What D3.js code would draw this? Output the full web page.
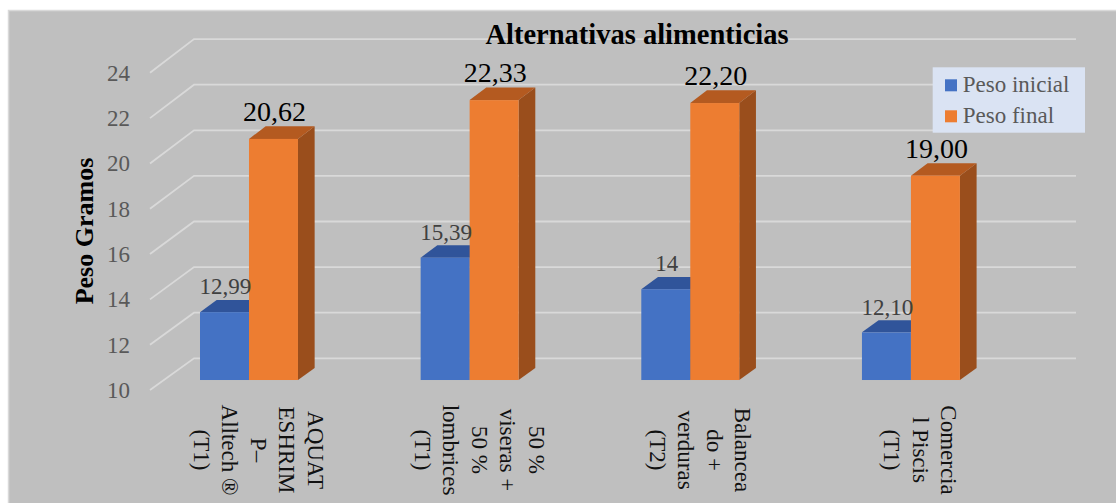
<!DOCTYPE html>
<html>
<head>
<meta charset="utf-8">
<script src="https://cdn.jsdelivr.net/npm/d3@7/dist/d3.min.js"></script>
<style>
  html, body { margin: 0; padding: 0; background: #ffffff; }
  svg { display: block; }
</style>
</head>
<body>
<svg id="chart" width="1116" height="503"></svg>
<script>
// Feed alternatives and weights (grams)
const categories = ["AQUATESHRIMP – Alltech ® (T1)", "50 % viseras + 50 % lombrices (T1)", "Balanceado + verduras (T2)", "Comercial Piscis (T1)"];
const categoryLines = [
  ["AQUAT", "ESHRIM", "P–", "Alltech ®", "(T1)"],
  ["50 %", "viseras +", "50 %", "lombrices", "(T1)"],
  ["Balancea", "do +", "verduras", "(T2)"],
  ["Comercia", "l Piscis", "(T1)"]
];
const seriesNames = ["Peso inicial", "Peso final"];
const pesoInicial = [12.99, 15.39, 14, 12.10];
const pesoFinal = [20.62, 22.33, 22.20, 19.00];
const labelsInicial = ["12,99", "15,39", "14", "12,10"];
const labelsFinal = ["20,62", "22,33", "22,20", "19,00"];
const yTicks = [10, 12, 14, 16, 18, 20, 22, 24];

const colors = {
  "Peso inicial": { front: "#4472c4", top: "#30549a", side: "#2c4f8f" },
  "Peso final":   { front: "#ed7d31", top: "#b45a20", side: "#9a4e1c" }
};

const SERIF = "'Liberation Serif', 'Times New Roman', Times, serif";

const svg = d3.select("#chart");

// chart area background with light frame
svg.append("rect")
  .attr("x", 8.5).attr("y", 10.5)
  .attr("width", 1120).attr("height", 510)
  .attr("fill", "#bfbfbf")
  .attr("stroke", "#d9d9d9").attr("stroke-width", 1.5);

// oblique 3D projection: depth d in [0,1], 0 = front edge, 1 = back wall
const DX = 44;
const yFront = d3.scaleLinear().domain([10, 24]).range([390, 72.8]);
const yBack = d3.scaleLinear().domain([10, 24]).range([358.3, 39.1]);
const py = (v, d) => yFront(v) + (yBack(v) - yFront(v)) * d;
const px = (x, d) => x + DX * d;

const x0 = d3.scaleBand().domain(categories).range([124.8, 1007.4])
  .paddingInner(0.556).paddingOuter(0.278);
const x1 = d3.scaleBand().domain(seriesNames).range([0, x0.bandwidth()]);

const wallLeft = 150, wallRight = 1076 - DX;

// gridlines: side wall diagonal + back wall horizontal
const grid = svg.append("g").attr("stroke", "#d9d9d9").attr("stroke-width", 1.8).attr("fill", "none");
yTicks.forEach(v => {
  grid.append("path").attr("d", d3.line()([
    [px(wallLeft, 0), py(v, 0)],
    [px(wallLeft, 1), py(v, 1)],
    [px(wallRight, 1), py(v, 1)]
  ]));
});

// tick labels
svg.append("g").selectAll("text").data(yTicks).join("text")
  .attr("x", 130).attr("y", d => yFront(d))
  .attr("dy", "0.35em")
  .attr("text-anchor", "end")
  .style("font-family", SERIF)
  .attr("font-size", 23)
  .attr("fill", "#595959")
  .text(d => d);

// bars
const dF = 0.315, dB = 0.694;
const bars = [];
categories.forEach((c, i) => {
  bars.push({ cat: c, s: "Peso inicial", v: pesoInicial[i], label: labelsInicial[i] });
  bars.push({ cat: c, s: "Peso final", v: pesoFinal[i], label: labelsFinal[i] });
});

const barG = svg.append("g");
bars.forEach(b => {
  const xl = x0(b.cat) + x1(b.s);
  const xr = xl + x1.bandwidth();
  const col = colors[b.s];
  const g = barG.append("g");
  // side face
  g.append("path").attr("fill", col.side).attr("d", d3.line()([
    [px(xr, dF), py(10, dF)], [px(xr, dB), py(10, dB)],
    [px(xr, dB), py(b.v, dB)], [px(xr, dF), py(b.v, dF)]
  ]) + "Z");
  // top face
  g.append("path").attr("fill", col.top).attr("d", d3.line()([
    [px(xl, dF), py(b.v, dF)], [px(xr, dF), py(b.v, dF)],
    [px(xr, dB), py(b.v, dB)], [px(xl, dB), py(b.v, dB)]
  ]) + "Z");
  // front face
  g.append("rect").attr("fill", col.front)
    .attr("x", px(xl, dF)).attr("y", py(b.v, dF))
    .attr("width", xr - xl).attr("height", py(10, dF) - py(b.v, dF));
});

// data labels
bars.forEach(b => {
  const xc = px(x0(b.cat) + x1(b.s) + x1.bandwidth() / 2, dF) + 1;
  const isFinal = b.s === "Peso final";
  svg.append("text")
    .attr("x", xc).attr("y", py(b.v, dB) - 5.5)
    .attr("text-anchor", "middle")
    .style("font-family", SERIF)
    .attr("font-size", isFinal ? 28 : 23)
    .attr("fill", isFinal ? "#000000" : "#404040")
    .text(b.label);
});

// category labels, rotated, lines stacked right to left
const lineStep = 28.5;
categories.forEach((c, i) => {
  const lines = categoryLines[i];
  const cx = px(x0(c) + x0.bandwidth() / 2, dF) + 2 + (lines.length - 1) * lineStep / 2;
  const t = svg.append("text")
    .attr("transform", `translate(${cx},450) rotate(90)`)
    .attr("text-anchor", "middle")
    .style("font-family", SERIF)
    .attr("font-size", 23)
    .attr("fill", "#111111");
  lines.forEach((ln, j) => {
    t.append("tspan").attr("x", 0).attr("y", j * lineStep).text(ln);
  });
});

// title
svg.append("text")
  .attr("x", 637).attr("y", 44)
  .attr("text-anchor", "middle")
  .style("font-family", SERIF)
  .attr("font-size", 28.5).attr("font-weight", "bold")
  .attr("fill", "#000000")
  .text("Alternativas alimenticias");

// y axis title
svg.append("text")
  .attr("transform", "translate(93,231) rotate(-90)")
  .attr("text-anchor", "middle")
  .style("font-family", SERIF)
  .attr("font-size", 26).attr("font-weight", "bold")
  .attr("fill", "#000000")
  .text("Peso Gramos");

// legend
const legend = svg.append("g");
legend.append("rect")
  .attr("x", 932.7).attr("y", 67.3).attr("width", 152.3).attr("height", 65.4)
  .attr("fill", "#dae3f3");
seriesNames.forEach((s, i) => {
  const yb = 92.3 + i * 31;
  legend.append("rect")
    .attr("x", 945).attr("y", yb - 13).attr("width", 12).attr("height", 12)
    .attr("fill", colors[s].front);
  legend.append("text")
    .attr("x", 962.7).attr("y", yb)
    .style("font-family", SERIF)
    .attr("font-size", 23).attr("fill", "#595959")
    .text(s);
});
</script>
</body>
</html>
